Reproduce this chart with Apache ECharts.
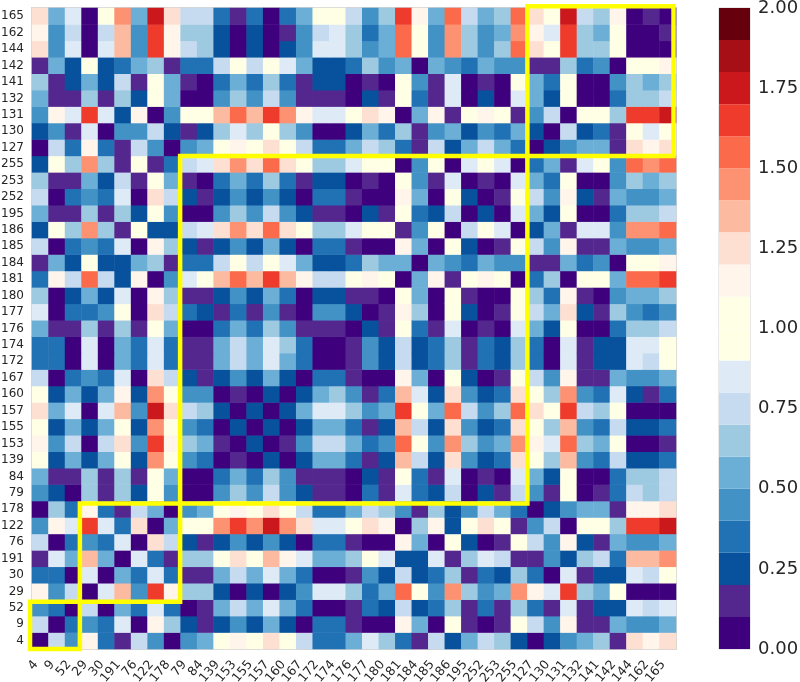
<!DOCTYPE html>
<html>
<head>
<meta charset="utf-8">
<script src="https://cdn.jsdelivr.net/npm/echarts@6/dist/echarts.min.js"></script>
<style>html,body{margin:0;padding:0;background:#fff}#c{width:800px;height:682px}</style>
</head>
<body>
<div id="c"></div>
<script>
// Axis labels, bottom to top / left to right
var labels = [4,9,52,29,30,191,76,122,178,79,84,139,153,155,157,160,167,172,174,176,177,180,181,184,185,186,195,252,253,255,127,130,131,132,141,142,144,162,165].map(String);

// Colour band per 0.1 of value, 0.0 to 2.0
var bandColors = ['#3f007d','#54278f','#08519c','#2171b5','#4292c6','#6baed6','#9ecae1','#c6dbef','#deebf7','#ffffe5',
                  '#ffffe5','#fff5eb','#fee0d2','#fcbba1','#fc9272','#fb6a4a','#ef3b2c','#cb181d','#a50f15','#67000d'];

// Symmetric matrix, lower triangle; each number is the value, in tenths (band index)
var tenths = [
[0],
[7,0],
[4,3,0],
[11,4,7,0],
[3,3,0,8,0],
[1,8,5,13,5,0],
[7,0,3,4,3,8,0],
[4,11,8,16,8,3,12,0],
[0,6,3,11,3,1,7,5,0],
[4,2,0,6,1,6,2,10,4,0],
[5,1,1,6,1,6,1,10,5,0,0],
[10,2,5,2,5,10,2,14,10,4,3,0],
[11,4,7,0,7,12,4,16,11,6,5,1,0],
[10,2,5,2,5,10,2,14,10,4,3,0,2,0],
[12,5,8,0,8,13,4,17,12,7,6,2,0,2,0],
[10,2,5,2,5,11,2,14,10,4,4,0,1,0,2,0],
[7,0,3,4,3,8,0,12,7,2,1,2,4,2,5,2,0],
[3,3,0,8,0,5,3,8,3,1,1,5,7,5,8,5,3,0],
[3,3,0,8,0,5,3,8,3,1,1,5,7,5,8,6,3,0,0],
[5,1,1,6,1,6,1,10,5,0,0,3,5,3,6,4,1,1,1,0],
[8,0,3,3,4,10,0,12,7,3,2,1,3,1,4,1,0,4,4,2,0],
[6,0,2,5,2,8,0,11,6,1,1,2,4,2,5,3,0,2,2,1,1,0],
[3,11,7,15,7,2,11,0,4,8,10,13,15,13,16,13,11,7,7,10,11,10,0],
[1,5,2,10,2,2,5,6,1,3,3,7,10,7,10,8,5,2,2,3,6,5,5,0],
[7,0,3,4,3,8,0,11,6,2,1,2,4,2,5,2,0,3,3,1,0,0,11,5,0],
[2,10,6,14,6,1,10,2,2,7,8,12,14,12,15,12,10,6,6,8,10,10,1,4,10,0],
[5,1,1,6,1,6,2,10,4,0,0,4,6,4,7,4,2,1,1,0,2,1,10,3,2,7,0],
[7,0,3,4,3,8,0,12,7,2,1,2,4,2,4,2,0,3,3,1,0,0,11,5,0,10,2,0],
[6,1,1,5,2,7,1,10,5,1,0,3,5,3,6,3,1,2,2,0,1,0,10,4,1,8,0,1,0],
[2,10,6,14,6,1,10,1,3,7,8,12,14,12,15,12,10,6,6,8,10,10,0,4,10,0,8,10,8,0],
[0,7,3,11,3,1,7,4,0,4,5,10,11,10,12,10,7,3,3,5,7,6,3,1,7,2,5,7,5,3,0],
[2,4,1,8,0,4,4,7,2,1,2,6,8,6,10,6,4,0,0,2,5,3,6,1,4,5,2,4,3,5,2,0],
[4,11,8,16,8,2,11,0,4,10,10,13,15,13,16,14,11,8,8,10,12,11,0,5,11,1,10,11,10,1,4,7,0],
[5,1,1,6,1,6,2,10,5,0,0,4,6,4,7,4,1,1,1,0,2,1,10,3,1,8,0,2,0,8,5,2,10,0],
[6,1,2,5,2,7,1,10,5,1,0,3,5,3,6,3,1,2,2,0,1,0,10,4,1,8,0,1,0,10,5,3,10,0,0],
[1,5,2,10,2,3,5,6,1,3,3,7,10,7,10,8,5,2,2,3,6,4,5,0,5,4,3,5,4,4,1,1,6,3,4,0],
[12,4,8,0,8,13,4,16,11,7,6,2,0,2,0,2,4,8,8,6,4,5,15,10,4,14,6,4,6,15,12,10,16,6,6,10,0],
[11,4,7,0,7,13,4,16,11,6,6,2,0,2,0,1,4,7,8,6,3,5,15,10,4,14,6,4,5,14,11,8,16,6,5,10,0,0],
[12,5,8,0,10,14,5,17,12,7,7,3,1,3,0,3,5,10,10,7,4,6,16,11,5,15,7,5,6,15,12,10,17,7,6,11,0,1,0]
];

// Yellow cluster outlines, in cell units: [left, bottom, right, top]
var clusters = [[-0.12,0,2.9,2.88],[2.9,2.88,8.97,8.86],[8.97,8.86,30,30],[30,30,38.85,39.1]];

var cells = [];
tenths.forEach(function(row, r){
  row.forEach(function(t, c){
    var v = t/10 + 0.05;
    cells.push([c, r, v]);
    if (c !== r) cells.push([r, c, v]);
  });
});

var font = '"DejaVu Sans"', ink = '#262626', frame = '#d4d4d4';
var pieces = bandColors.map(function(col, i){ return {gte: i/10, lt: (i+1)/10, color: col}; });

var series = [{
  type: 'heatmap', xAxisIndex: 0, yAxisIndex: 0, data: cells, silent: true,
  itemStyle: {borderWidth: 0}, emphasis: {disabled: true}, progressive: 0
},{
  type: 'custom', xAxisIndex: 0, yAxisIndex: 0, silent: true, z: 10, clip: false,
  data: clusters.map(function(){ return [0, 0]; }),
  renderItem: function(params, api){
    var b = clusters[params.dataIndex];
    var o = api.coord([0, 0]), s = api.size([1, 1]);
    var x0 = o[0] - s[0]/2, y0 = o[1] + s[1]/2;
    return {
      type: 'rect',
      shape: {x: x0 + b[0]*s[0], y: y0 - b[3]*s[1], width: (b[2]-b[0])*s[0], height: (b[3]-b[1])*s[1]},
      style: {fill: 'none', stroke: '#ffff00', lineWidth: 4.5}
    };
  }
}];
bandColors.forEach(function(col){
  series.push({
    type: 'bar', xAxisIndex: 1, yAxisIndex: 1, stack: 'bar', barWidth: '100%', silent: true,
    data: [0.1], itemStyle: {color: col}
  });
});

var chart = echarts.init(document.getElementById('c'), null, {renderer: 'canvas'});
chart.setOption({
  animation: false,
  backgroundColor: '#fff',
  grid: [
    {left: 32, top: 8, width: 644, height: 641, outerBoundsMode: 'none', show: true, borderColor: frame, borderWidth: 2, backgroundColor: 'transparent'},
    {left: 719, top: 8, width: 31, height: 641, outerBoundsMode: 'none', show: true, borderColor: frame, borderWidth: 1}
  ],
  xAxis: [
    {type: 'category', gridIndex: 0, data: labels,
     axisLine: {show: false}, axisTick: {show: false}, splitLine: {show: false},
     axisLabel: {interval: 0, rotate: 50, fontFamily: font, fontSize: 12.5, color: ink, margin: 8, padding: [0, 7, 0, 0]}},
    {type: 'category', gridIndex: 1, data: [''], show: false}
  ],
  yAxis: [
    {type: 'category', gridIndex: 0, data: labels,
     axisLine: {show: false}, axisTick: {show: false}, splitLine: {show: false},
     axisLabel: {interval: 0, fontFamily: font, fontSize: 12, color: ink, margin: 8}},
    {type: 'value', gridIndex: 1, position: 'right', min: 0, max: 2, interval: 0.25,
     axisLine: {show: false}, axisTick: {show: false}, splitLine: {show: false},
     axisLabel: {fontFamily: font, fontSize: 18, color: ink, margin: 8,
       formatter: function(v){ return v.toFixed(2); }}}
  ],
  visualMap: {type: 'piecewise', show: false, seriesIndex: 0, dimension: 2, pieces: pieces},
  series: series
});
</script>
</body>
</html>
